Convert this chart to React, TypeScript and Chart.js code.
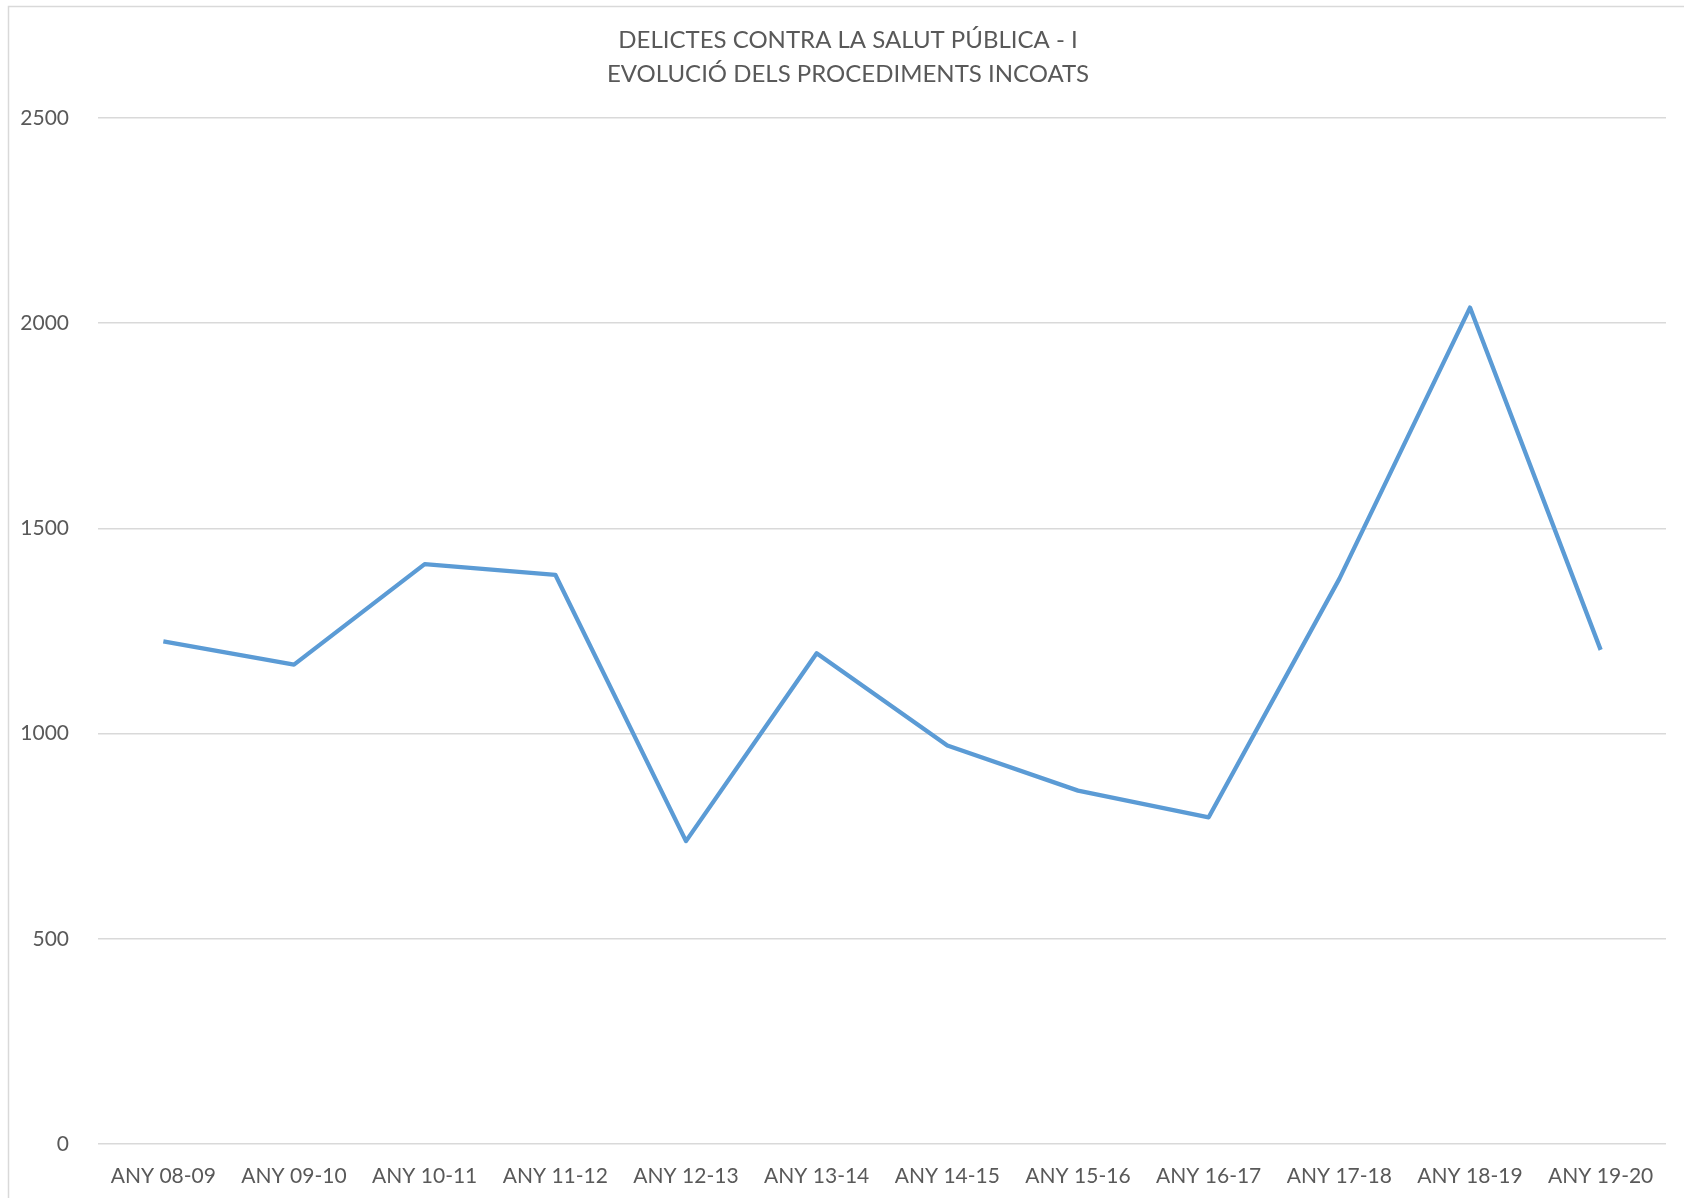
import React, { useEffect, useRef } from "react";
import { Chart, registerables } from "chart.js";

Chart.register(...registerables);

const TITLE_LINES = ["DELICTES CONTRA LA SALUT PÚBLICA - I", "EVOLUCIÓ DELS PROCEDIMENTS INCOATS"];
const CATEGORIES = [
  "ANY 08-09", "ANY 09-10", "ANY 10-11", "ANY 11-12", "ANY 12-13", "ANY 13-14",
  "ANY 14-15", "ANY 15-16", "ANY 16-17", "ANY 17-18", "ANY 18-19", "ANY 19-20",
];
const VALUES = [1225, 1168, 1413, 1387, 738, 1196, 971, 861, 796, 1377, 2038, 1204];
const Y_MIN = 0;
const Y_MAX = 2500;
const Y_STEP = 500;

const FONT = "Lato, 'Open Sans', sans-serif";
const TEXT_COLOR = "#595959";
const GRID_COLOR = "#d9d9d9";
const LINE_COLOR = "#5b9bd5";

const borderPlugin = {
  id: "outerBorder",
  beforeDraw(chart: any) {
    const ctx = chart.ctx;
    ctx.save();
    ctx.fillStyle = "#ffffff";
    ctx.fillRect(0, 0, chart.width, chart.height);
    ctx.strokeStyle = GRID_COLOR;
    ctx.lineWidth = 1.5;
    ctx.strokeRect(8.5, 6.5, chart.width + 20, chart.height + 20);
    ctx.restore();
  },
};

// Centre the title over the outer chart box (which starts at x=8 and runs past the right edge)
const titleShiftPlugin = {
  id: "titleShift",
  afterLayout(chart: any) {
    const tb = chart.titleBlock;
    if (tb) {
      tb.left = 30;
      tb.right = 1666;
    }
  },
};

export default function App() {
  const ref = useRef<HTMLCanvasElement | null>(null);
  useEffect(() => {
    if (!ref.current) return;
    const chart = new Chart(ref.current, {
      type: "line",
      data: {
        labels: CATEGORIES,
        datasets: [
          {
            data: VALUES,
            borderColor: LINE_COLOR,
            backgroundColor: LINE_COLOR,
            borderWidth: 4.3,
            pointRadius: 0,
            pointHoverRadius: 0,
            tension: 0,
            fill: false,
            borderJoinStyle: "round",
            borderCapStyle: "butt",
          },
        ],
      },
      options: {
        responsive: false,
        animation: false,
        layout: { padding: { left: 12, right: 18, top: 0, bottom: 0 } },
        plugins: {
          legend: { display: false },
          tooltip: { enabled: false },
          title: {
            display: true,
            text: TITLE_LINES,
            color: TEXT_COLOR,
            font: { family: FONT, size: 24, weight: "normal", lineHeight: 34 / 24 },
            padding: { top: 23, bottom: 27 },
          },
        },
        scales: {
          x: {
            offset: true,
            grid: { display: false, drawTicks: false },
            border: { display: false },
            ticks: {
              color: TEXT_COLOR,
              font: { family: FONT, size: 21 },
              padding: 20,
              maxRotation: 0,
              autoSkip: false,
            },
            afterFit(scale: any) {
              scale.height = 54;
            },
          },
          y: {
            min: Y_MIN,
            max: Y_MAX,
            grid: { color: GRID_COLOR, lineWidth: 1.5, drawTicks: false },
            border: { display: false },
            ticks: {
              stepSize: Y_STEP,
              color: TEXT_COLOR,
              font: { family: FONT, size: 21 },
              padding: 29,
              callback: (v: any) => String(v),
            },
            afterFit(scale: any) {
              scale.width = 86;
            },
          },
        },
      },
      plugins: [borderPlugin, titleShiftPlugin],
    });
    return () => chart.destroy();
  }, []);
  return (
    <div style={{ position: "absolute", left: 0, top: 0, width: 1684, height: 1198 }}>
      <canvas ref={ref} width={1684} height={1198} style={{ display: "block" }} />
    </div>
  );
}
